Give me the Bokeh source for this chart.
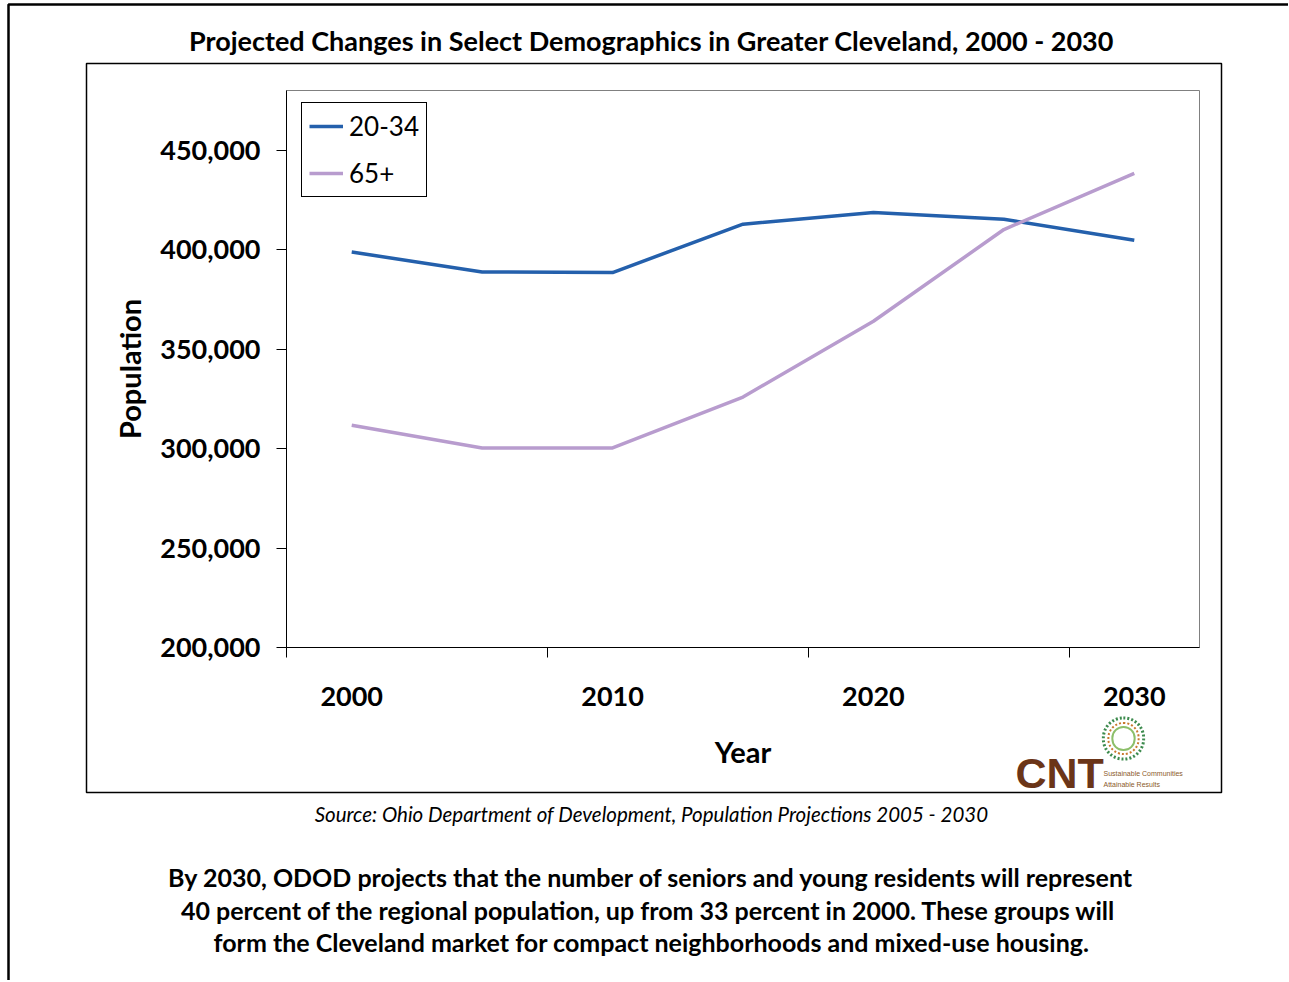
from bokeh.plotting import figure
from bokeh.models import (FixedTicker, NumeralTickFormatter, Label, BoxAnnotation,
                          Legend, LegendItem, Range1d)
from bokeh.embed import file_html
from bokeh.resources import INLINE

# ---------------- data ----------------
years = [2000, 2005, 2010, 2015, 2020, 2025, 2030]
age_20_34 = [398800, 388800, 388500, 412800, 418700, 415300, 404700]
age_65_plus = [311700, 300300, 300300, 325900, 364000, 410100, 438300]
series_names = ["20-34", "65+"]
x_label_years = [2000, 2010, 2020, 2030]
y_tick_values = [200000, 250000, 300000, 350000, 400000, 450000]

title_text = "Projected Changes in Select Demographics in Greater Cleveland, 2000 - 2030"
source_text = "Source: Ohio Department of Development, Population Projections 2005 - 2030"
note_lines = [
    "By 2030, ODOD projects that the number of seniors and young residents will represent",
    "40 percent of the regional population, up from 33 percent in 2000.  These groups will",
    "form the Cleveland market for compact neighborhoods and mixed-use housing.",
]
logo_text = "CNT"
logo_sub = ["Sustainable Communities", "Attainable Results"]

# ---------------- layout / style ----------------
BLUE = "#2460AC"
LILAC = "#B89CCE"
FONT = "Lato"
W, H = 1288, 980
# plot-area extent (data) and its pixel box on the canvas
X0, X1 = 1997.5, 2032.5
Y0, Y1 = 200000, 480000
PX_L, PX_R, PX_T, PX_B = 286, 1199, 90, 647
sx = (X1 - X0) / (PX_R - PX_L)
sy = (Y1 - Y0) / (PX_B - PX_T)

p = figure(width=W, height=H, output_backend="svg", toolbar_location=None,
           x_range=Range1d(X0 - PX_L * sx, X1 + (W - PX_R) * sx),
           y_range=Range1d(Y0 - (H - PX_B) * sy, Y1 + PX_T * sy),
           min_border_left=0, min_border_right=0, min_border_top=0,
           min_border_bottom=0, background_fill_color="white",
           border_fill_color="white")
p.title.text = ""
p.title.visible = False
p.xgrid.visible = False
p.ygrid.visible = False
p.outline_line_color = None

# plot-area border (grey), under the axes
p.add_layout(BoxAnnotation(left=X0, right=X1, bottom=Y0, top=Y1,
                           fill_color=None, fill_alpha=0, line_color="#808080",
                           line_alpha=1, line_width=1, level="underlay"))

r1 = p.line(years, age_20_34, line_color=BLUE, line_width=3.5)
r2 = p.line(years, age_65_plus, line_color=LILAC, line_width=3.5)

# x axis
xa = p.xaxis[0]
xa.fixed_location = Y0
xa.bounds = (X0, X1)
xa.ticker = FixedTicker(ticks=x_label_years, minor_ticks=[y - 2.5 for y in x_label_years])
xa.major_tick_line_color = None
xa.major_tick_out = 10
xa.major_tick_in = 0
xa.minor_tick_line_color = "black"
xa.minor_tick_out = 10
xa.minor_tick_in = 0
xa.axis_line_color = "black"
xa.major_label_text_font = FONT
xa.major_label_text_font_style = "bold"
xa.major_label_text_font_size = "27px"
xa.major_label_text_color = "black"
xa.major_label_standoff = 29
xa.axis_label = "Year"
xa.axis_label_text_font = FONT
xa.axis_label_text_font_style = "bold"
xa.axis_label_text_font_size = "29px"
xa.axis_label_text_color = "black"
xa.axis_label_standoff = 25

# y axis
ya = p.yaxis[0]
ya.fixed_location = X0
ya.bounds = (Y0, Y1)
ya.ticker = FixedTicker(ticks=y_tick_values)
ya.formatter = NumeralTickFormatter(format="0,0")
ya.minor_tick_line_color = None
ya.major_tick_out = 10
ya.major_tick_in = 0
ya.major_tick_line_color = "black"
ya.axis_line_color = "black"
ya.major_label_text_font = FONT
ya.major_label_text_font_style = "bold"
ya.major_label_text_font_size = "27px"
ya.major_label_text_color = "black"
ya.major_label_standoff = 16
ya.axis_label = "Population"
ya.axis_label_text_font = FONT
ya.axis_label_text_font_style = "bold"
ya.axis_label_text_font_size = "29px"
ya.axis_label_text_color = "black"
ya.axis_label_standoff = 10

# legend (location = left, bottom edge in screen px from frame bottom-left)
legend = Legend(items=[LegendItem(label=series_names[0], renderers=[r1]),
                       LegendItem(label=series_names[1], renderers=[r2])],
                location=(301, H - 197), orientation="vertical",
                label_text_font=FONT, label_text_font_size="26px",
                label_text_color="black", glyph_width=34, glyph_height=20,
                label_standoff=6, padding=7, spacing=15, margin=0,
                border_line_color="black", border_line_width=1,
                border_line_alpha=1,
                background_fill_color="white", background_fill_alpha=1)
p.add_layout(legend)

# boxes (screen px; y measured up from the bottom of the canvas)
p.add_layout(BoxAnnotation(left=86, right=1221, top=H - 63, bottom=H - 792,
                           left_units="screen", right_units="screen",
                           top_units="screen", bottom_units="screen",
                           fill_color=None, fill_alpha=0, line_color="black",
                           line_alpha=1, line_width=1.5))
p.add_layout(BoxAnnotation(left=8, right=W + 50, top=H - 4, bottom=-50,
                           left_units="screen", right_units="screen",
                           top_units="screen", bottom_units="screen",
                           fill_color=None, fill_alpha=0, line_color="black",
                           line_alpha=1, line_width=2.5))

def lab(text, x, y, size, style="normal", align="center", baseline="middle",
        color="black", font=FONT, **kw):
    p.add_layout(Label(x=x, y=H - y, x_units="screen", y_units="screen", text=text,
                       text_font=font, text_font_size=size, text_font_style=style,
                       text_align=align, text_baseline=baseline,
                       text_color=color, **kw))

lab(title_text, 651, 40, "27px", "bold")
lab(source_text, 651, 813, "20.5px", "italic")
for line, yy in zip(note_lines, [876, 909, 941]):
    lab(line, 651, yy, "25px", "bold")

# logo
lab(logo_text, 1015, 772, "43px", "bold", align="left",
    color="#6B3518", font="Liberation Sans")
lab(logo_sub[0], 1103, 773, "7px", "normal", align="left", color="#8B5A2B",
    font="Liberation Sans")
lab(logo_sub[1], 1103, 784, "7px", "normal", align="left", color="#8B5A2B",
    font="Liberation Sans")
for rad, col, lw, dash in [(20, "#3D8B4E", 3, "2 2"), (15, "#C87A2E", 2, "2 2"),
                           (11, "#8DBF6A", 2, "solid")]:
    p.add_layout(Label(x=1123, y=H - 738, x_units="screen", y_units="screen",
                       text=" ", text_font_size="1px", text_align="center",
                       text_baseline="middle", padding=rad, border_radius=rad,
                       border_line_color=col, border_line_width=lw,
                       border_line_dash=dash))

open("out.html", "w").write(file_html(p, INLINE))
